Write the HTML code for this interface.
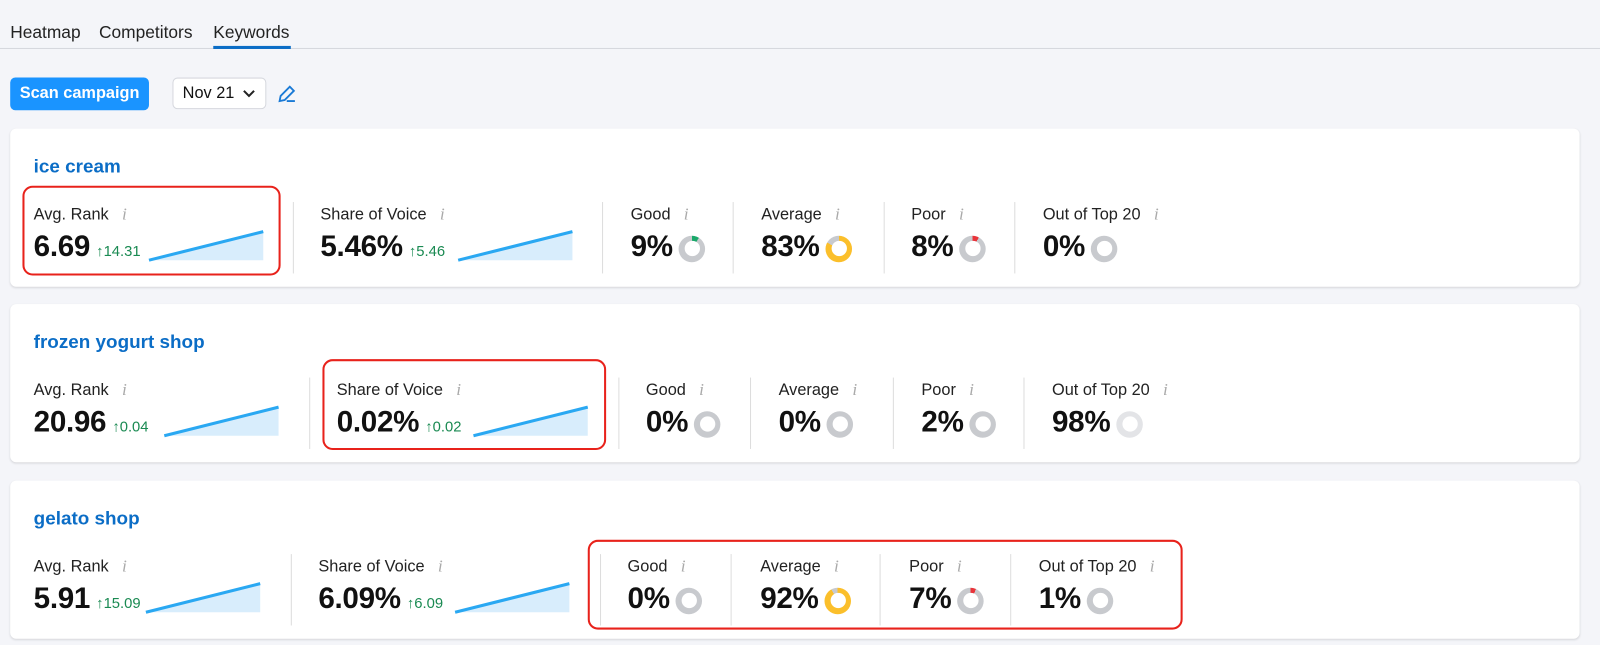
<!DOCTYPE html>
<html><head><meta charset="utf-8"><style>
*{box-sizing:border-box;margin:0;padding:0}
body{width:1600px;height:645px;background:#f4f5f9;font-family:"Liberation Sans",sans-serif;color:#111;overflow:hidden}
#w{position:relative;width:1568px;height:632px;transform:scale(1.0204);transform-origin:0 0}
.a{position:absolute}
.tab{position:absolute;top:22px;font-size:17px;color:#222}
.card{position:absolute;left:10px;width:1538px;height:155px;background:#fff;border-radius:6px;box-shadow:0 1px 2px rgba(0,0,0,.12)}
.title{position:absolute;left:23px;top:26px;font-size:18.5px;font-weight:bold;color:#0b6dc6}
.lab{position:absolute;top:74px;font-size:16px;color:#222;white-space:nowrap}
.lab i{color:#aaa;font-family:"Liberation Serif",serif;margin-left:13px;font-size:17px}
.val{position:absolute;top:100px;font-size:29px;font-weight:bold;white-space:nowrap;letter-spacing:-0.3px;display:flex;align-items:center}
.d{font-size:14.5px;font-weight:normal;color:#1a8a52;letter-spacing:0;margin-left:6px;margin-top:8px}
.sep{position:absolute;top:72px;width:1px;height:70px;background:#ddd}
.don{position:relative;display:inline-block;margin-left:6px;width:26px;height:26px;border-radius:50%;margin-top:2px}
.don::after{content:"";position:absolute;left:5.5px;top:5.5px;width:15px;height:15px;border-radius:50%;background:#fff}
.red{position:absolute;border:2px solid #e8221b;border-radius:10px}
svg.sp{position:absolute}
</style></head><body><div id="w">
<div class="tab" style="left:10px">Heatmap</div>
<div class="tab" style="left:97px">Competitors</div>
<div class="tab" style="left:209px">Keywords</div>
<div class="a" style="left:0;top:47px;width:1600px;height:1px;background:#d6d8de"></div>
<div class="a" style="left:209px;top:45px;width:76px;height:3px;background:#0b6dc6"></div>
<div class="a" style="left:10px;top:76px;width:136px;height:32px;background:#1a94ff;border-radius:5px;color:#fff;font-weight:bold;font-size:16px;line-height:32px;text-align:center">Scan campaign</div>
<div class="a" style="left:169px;top:76px;width:92px;height:31px;background:#fff;border:1px solid #d6d8de;border-radius:5px;font-size:16px;line-height:29px;padding-left:9px">Nov 21<svg style="position:absolute;left:68px;top:10px" width="12" height="10"><path d="M1 2 L6 7 L11 2" fill="none" stroke="#222" stroke-width="2"/></svg></div>
<svg class="a" style="left:271px;top:82px" width="22" height="20" viewBox="0 0 22 20"><path d="M3 17 L4 12 L13 3 L17 7 L8 16 Z" fill="none" stroke="#1a7ad6" stroke-width="1.8"/><path d="M10 17 H18" stroke="#1a7ad6" stroke-width="1.8"/></svg>

<div class="card" style="top:126px">
<div class="title">ice cream</div>
<div class="lab" style="left:23px">Avg. Rank<i>i</i></div>
<div class="val" style="left:23px">6.69<span class="d">↑14.31</span></div>
<svg class="sp" style="left:135px;top:98px" width="115" height="33"><polygon points="1,31 113,3 113,31" fill="#d8edfc"/><line x1="1" y1="31" x2="113" y2="3" stroke="#2aa8f2" stroke-width="3"/></svg>
<div class="sep" style="left:277px"></div>
<div class="lab" style="left:304px">Share of Voice<i>i</i></div>
<div class="val" style="left:304px">5.46%<span class="d">↑5.46</span></div>
<svg class="sp" style="left:438px;top:98px" width="115" height="33"><polygon points="1,31 113,3 113,31" fill="#d8edfc"/><line x1="1" y1="31" x2="113" y2="3" stroke="#2aa8f2" stroke-width="3"/></svg>
<div class="sep" style="left:580px"></div>
<div class="lab" style="left:608px">Good<i>i</i></div>
<div class="val" style="left:608px">9%<span class="don" style="background:conic-gradient(#1aa86a 0 9%,#c8cace 9% 100%)"></span></div>
<div class="sep" style="left:708px"></div>
<div class="lab" style="left:736px">Average<i>i</i></div>
<div class="val" style="left:736px">83%<span class="don" style="background:conic-gradient(#fbbf2b 0 83%,#c8cace 83% 100%)"></span></div>
<div class="sep" style="left:856px"></div>
<div class="lab" style="left:883px">Poor<i>i</i></div>
<div class="val" style="left:883px">8%<span class="don" style="background:conic-gradient(#e8343a 0 8%,#c8cace 8% 100%)"></span></div>
<div class="sep" style="left:984px"></div>
<div class="lab" style="left:1012px">Out of Top 20<i>i</i></div>
<div class="val" style="left:1012px">0%<span class="don" style="background:#c8cace"></span></div>
</div>

<div class="card" style="top:298px">
<div class="title">frozen yogurt shop</div>
<div class="lab" style="left:23px">Avg. Rank<i>i</i></div>
<div class="val" style="left:23px">20.96<span class="d">↑0.04</span></div>
<svg class="sp" style="left:150px;top:98px" width="115" height="33"><polygon points="1,31 113,3 113,31" fill="#d8edfc"/><line x1="1" y1="31" x2="113" y2="3" stroke="#2aa8f2" stroke-width="3"/></svg>
<div class="sep" style="left:293px"></div>
<div class="lab" style="left:320px">Share of Voice<i>i</i></div>
<div class="val" style="left:320px">0.02%<span class="d">↑0.02</span></div>
<svg class="sp" style="left:453px;top:98px" width="115" height="33"><polygon points="1,31 113,3 113,31" fill="#d8edfc"/><line x1="1" y1="31" x2="113" y2="3" stroke="#2aa8f2" stroke-width="3"/></svg>
<div class="sep" style="left:596px"></div>
<div class="lab" style="left:623px">Good<i>i</i></div>
<div class="val" style="left:623px">0%<span class="don" style="background:#c8cace"></span></div>
<div class="sep" style="left:725px"></div>
<div class="lab" style="left:753px">Average<i>i</i></div>
<div class="val" style="left:753px">0%<span class="don" style="background:#c8cace"></span></div>
<div class="sep" style="left:865px"></div>
<div class="lab" style="left:893px">Poor<i>i</i></div>
<div class="val" style="left:893px">2%<span class="don" style="background:#c8cace"></span></div>
<div class="sep" style="left:993px"></div>
<div class="lab" style="left:1021px">Out of Top 20<i>i</i></div>
<div class="val" style="left:1021px">98%<span class="don" style="background:#e3e4e7"></span></div>
</div>

<div class="card" style="top:471px">
<div class="title">gelato shop</div>
<div class="lab" style="left:23px">Avg. Rank<i>i</i></div>
<div class="val" style="left:23px">5.91<span class="d">↑15.09</span></div>
<svg class="sp" style="left:132px;top:98px" width="115" height="33"><polygon points="1,31 113,3 113,31" fill="#d8edfc"/><line x1="1" y1="31" x2="113" y2="3" stroke="#2aa8f2" stroke-width="3"/></svg>
<div class="sep" style="left:275px"></div>
<div class="lab" style="left:302px">Share of Voice<i>i</i></div>
<div class="val" style="left:302px">6.09%<span class="d">↑6.09</span></div>
<svg class="sp" style="left:435px;top:98px" width="115" height="33"><polygon points="1,31 113,3 113,31" fill="#d8edfc"/><line x1="1" y1="31" x2="113" y2="3" stroke="#2aa8f2" stroke-width="3"/></svg>
<div class="sep" style="left:578px"></div>
<div class="lab" style="left:605px">Good<i>i</i></div>
<div class="val" style="left:605px">0%<span class="don" style="background:#c8cace"></span></div>
<div class="sep" style="left:706px"></div>
<div class="lab" style="left:735px">Average<i>i</i></div>
<div class="val" style="left:735px">92%<span class="don" style="background:conic-gradient(#fbbf2b 0 92%,#c8cace 92% 100%)"></span></div>
<div class="sep" style="left:852px"></div>
<div class="lab" style="left:881px">Poor<i>i</i></div>
<div class="val" style="left:881px">7%<span class="don" style="background:conic-gradient(#e8343a 0 7%,#c8cace 7% 100%)"></span></div>
<div class="sep" style="left:980px"></div>
<div class="lab" style="left:1008px">Out of Top 20<i>i</i></div>
<div class="val" style="left:1008px">1%<span class="don" style="background:#c8cace"></span></div>
</div>

<div class="red" style="left:22px;top:182px;width:253px;height:88px"></div>
<div class="red" style="left:316px;top:352px;width:278px;height:89px"></div>
<div class="red" style="left:576px;top:529px;width:583px;height:88px"></div>
</div></body></html>
